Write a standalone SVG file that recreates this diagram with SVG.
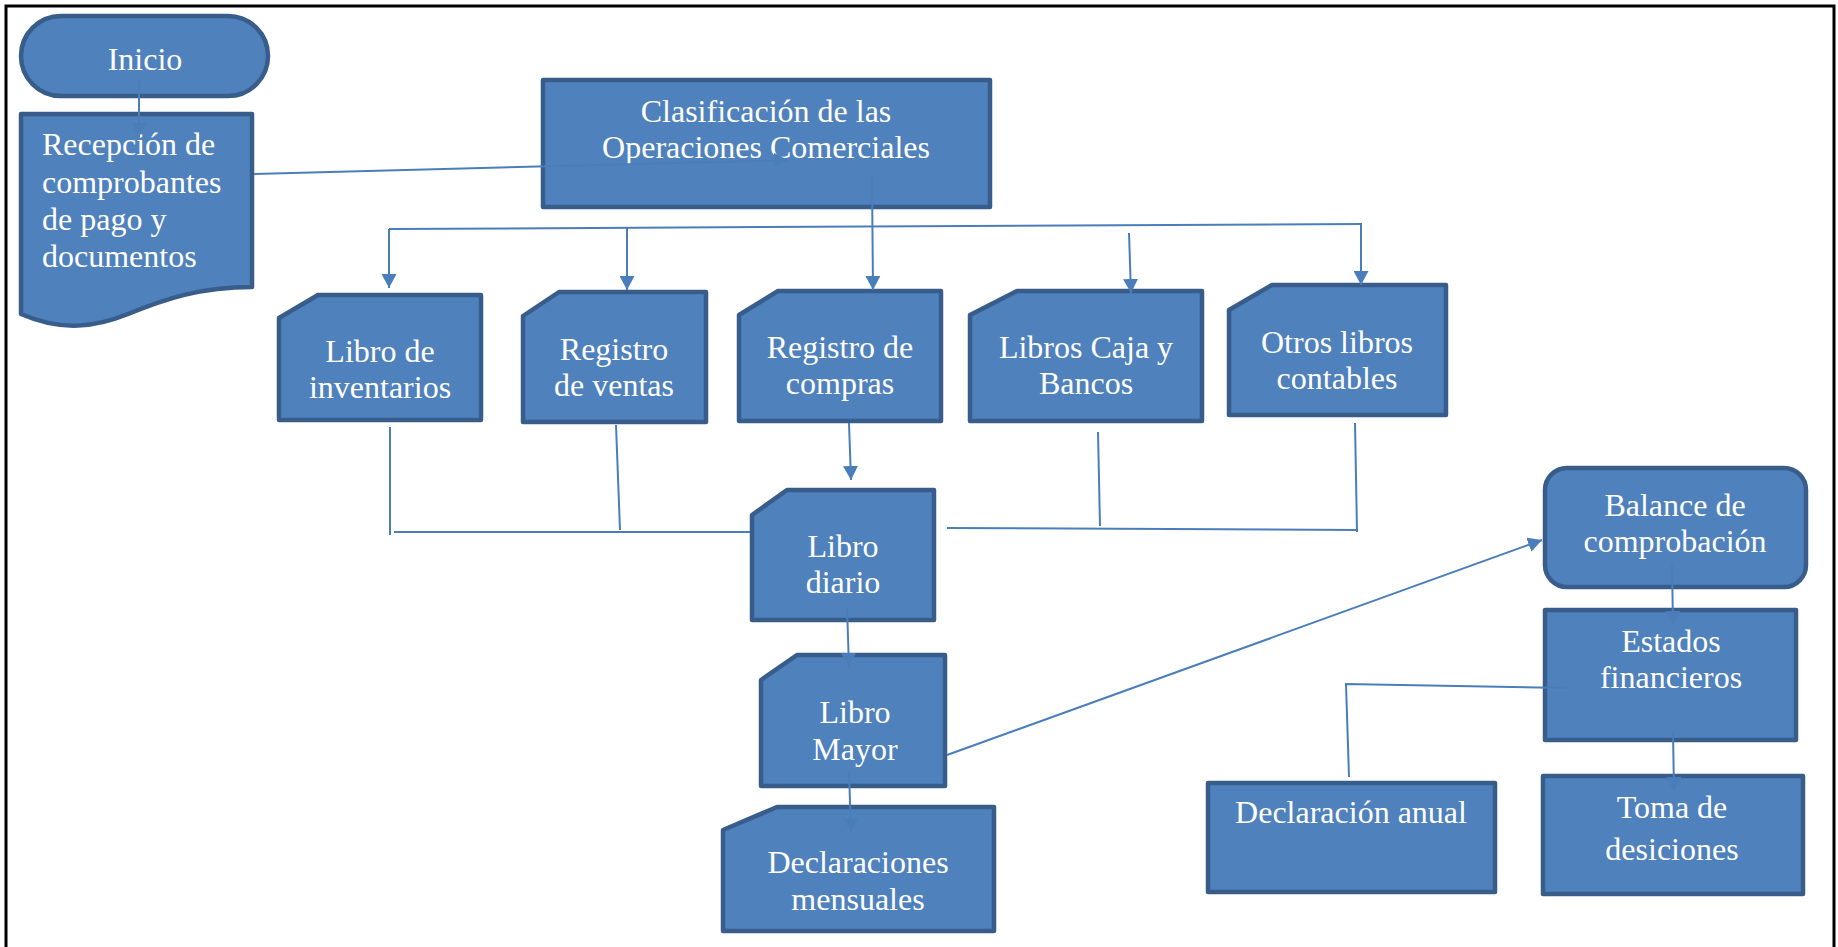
<svg xmlns="http://www.w3.org/2000/svg" width="1838" height="947" viewBox="0 0 1838 947">
  <style>
    .node { fill: #4F81BD; stroke: #385D8A; stroke-width: 4.5; stroke-linejoin: round; }
    .label { font-family: "Liberation Serif", "Times New Roman", serif; font-size: 32px; fill: #FFFFFF; text-anchor: middle; }
    .label-left { text-anchor: start; }
    .wire { fill: none; stroke: #4A7EBB; stroke-width: 2; }
    .arrow { marker-end: url(#head); }
  </style>
  <defs>
    <marker id="head" markerUnits="userSpaceOnUse" markerWidth="15" markerHeight="15" refX="14" refY="7.5" orient="auto">
      <path d="M0,0 L14,7.5 L0,15 Z" fill="#4A7EBB"/>
    </marker>
  </defs>

  <rect width="1838" height="947" fill="#FFFFFF"/>
  <!-- page frame (open at the bottom) -->
  <path d="M6,950 V6 H1834 V950" fill="none" stroke="#000000" stroke-width="3"/>

  <g id="inicio">
    <rect class="node" x="21" y="16" width="247" height="80" rx="40"/>
    <text class="label" x="145" y="70">Inicio</text>
  </g>

  <g id="recepcion">
    <path class="node" d="M21,114 H252 V287 C200,287 165,299 128,314 C96,327 62,332 21,314 Z"/>
    <text class="label label-left" x="42" y="155">Recepción de</text>
    <text class="label label-left" x="42" y="193">comprobantes</text>
    <text class="label label-left" x="42" y="230">de pago y</text>
    <text class="label label-left" x="42" y="267">documentos</text>
  </g>

  <g id="clasificacion">
    <rect class="node" x="543" y="80" width="447" height="127"/>
    <text class="label" x="766" y="122">Clasificación de las</text>
    <text class="label" x="766" y="158">Operaciones Comerciales</text>
  </g>

  <g id="libro-inventarios">
    <path class="node" d="M279,318 L318,295 H481 V420 H279 Z"/>
    <text class="label" x="380" y="362">Libro de</text>
    <text class="label" x="380" y="398">inventarios</text>
  </g>

  <g id="registro-ventas">
    <path class="node" d="M523,316 L559,292 H706 V422 H523 Z"/>
    <text class="label" x="614" y="360">Registro</text>
    <text class="label" x="614" y="396">de ventas</text>
  </g>

  <g id="registro-compras">
    <path class="node" d="M739,315 L778,291 H941 V421 H739 Z"/>
    <text class="label" x="840" y="358">Registro de</text>
    <text class="label" x="840" y="394">compras</text>
  </g>

  <g id="libros-caja-bancos">
    <path class="node" d="M970,315 L1017,291 H1202 V421 H970 Z"/>
    <text class="label" x="1086" y="358">Libros Caja y</text>
    <text class="label" x="1086" y="394">Bancos</text>
  </g>

  <g id="otros-libros">
    <path class="node" d="M1229,310 L1272,285 H1446 V415 H1229 Z"/>
    <text class="label" x="1337" y="353">Otros libros</text>
    <text class="label" x="1337" y="389">contables</text>
  </g>

  <g id="libro-diario">
    <path class="node" d="M752,515 L787,490 H934 V620 H752 Z"/>
    <text class="label" x="843" y="557">Libro</text>
    <text class="label" x="843" y="593">diario</text>
  </g>

  <g id="libro-mayor">
    <path class="node" d="M761,680 L797,655 H945 V786 H761 Z"/>
    <text class="label" x="855" y="723">Libro</text>
    <text class="label" x="855" y="760">Mayor</text>
  </g>

  <g id="declaraciones-mensuales">
    <path class="node" d="M723,830 L777,807 H994 V931 H723 Z"/>
    <text class="label" x="858" y="873">Declaraciones</text>
    <text class="label" x="858" y="910">mensuales</text>
  </g>

  <g id="balance">
    <rect class="node" x="1545" y="468" width="261" height="119" rx="22"/>
    <text class="label" x="1675" y="516">Balance de</text>
    <text class="label" x="1675" y="552">comprobación</text>
  </g>

  <g id="estados-financieros">
    <rect class="node" x="1545" y="610" width="251" height="130"/>
    <text class="label" x="1671" y="652">Estados</text>
    <text class="label" x="1671" y="688">financieros</text>
  </g>

  <g id="declaracion-anual">
    <rect class="node" x="1208" y="783" width="287" height="109"/>
    <text class="label" x="1351" y="823">Declaración anual</text>
  </g>

  <g id="toma-decisiones">
    <rect class="node" x="1543" y="776" width="260" height="118"/>
    <text class="label" x="1672" y="818">Toma de</text>
    <text class="label" x="1672" y="860">desiciones</text>
  </g>

  <g id="connectors">
    <path class="wire arrow" d="M139,80 V137"/>
    <path class="wire arrow" d="M254,174 L788,160"/>
    <!-- distribution bus below the classification box -->
    <path class="wire" d="M389,229 L1362,224"/>
    <path class="wire arrow" d="M389,229 V288"/>
    <path class="wire arrow" d="M627,228 V290"/>
    <path class="wire arrow" d="M872,177 L873,290"/>
    <path class="wire arrow" d="M1129,233 L1131,293"/>
    <path class="wire arrow" d="M1361,224 V285"/>
    <!-- collection lines into the journal -->
    <path class="wire" d="M390,427 V535"/>
    <path class="wire" d="M394,532 H750"/>
    <path class="wire" d="M616,425 L620,530"/>
    <path class="wire" d="M1098,432 L1100,526"/>
    <path class="wire" d="M947,528 L1358,530"/>
    <path class="wire" d="M1355,423 L1357,532"/>
    <path class="wire arrow" d="M849,423 L851,480"/>
    <path class="wire arrow" d="M847,607 L849,667"/>
    <path class="wire arrow" d="M849,772 L851,832"/>
    <path class="wire arrow" d="M947,755 L1542,540"/>
    <path class="wire arrow" d="M1672,565 L1673,625"/>
    <path class="wire" d="M1567,688 L1346,684 L1349,777"/>
    <path class="wire arrow" d="M1673,732 L1674,791"/>
  </g>
</svg>
